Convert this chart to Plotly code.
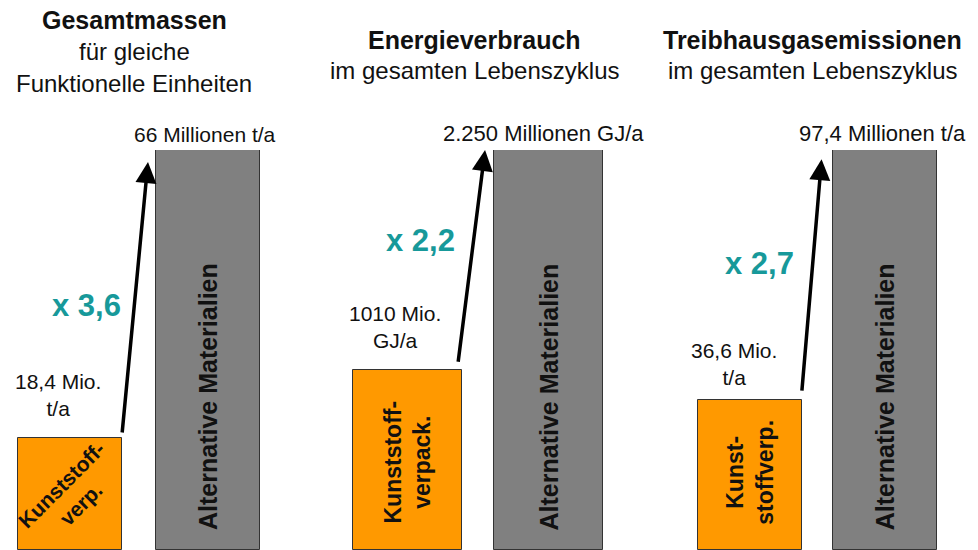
import plotly.graph_objects as go

# ---- data ----
panel_titles = ["Gesamtmassen", "Energieverbrauch", "Treibhausgasemissionen"]
panel_subtitles = [["für gleiche", "Funktionelle Einheiten"],
                   ["im gesamten Lebenszyklus"],
                   ["im gesamten Lebenszyklus"]]
plastic_values = [18.4, 1010, 36.6]
alternative_values = [66, 2250, 97.4]
plastic_labels = ["18,4 Mio.<br>t/a", "1010 Mio.<br>GJ/a", "36,6 Mio.<br>t/a"]
alternative_labels = ["66 Millionen t/a", "2.250 Millionen GJ/a", "97,4 Millionen t/a"]
plastic_bar_text = ["Kunststoff-<br>verp.", "Kunststoff-<br>verpack.", "Kunst-<br>stoffverp."]
alternative_bar_text = "Alternative Materialien"

# ---- style ----
W, H = 978, 550
TOP, PH = 150, 400
FONT = "Liberation Sans, Arial, sans-serif"
ORANGE = "#FF9900"
GRAY = "#808080"
TEAL = "#17999a"
domains_px = [(1, 277), (337, 619), (682, 953)]
bar_widths = [0.754, 0.773, 0.771]
title_x_px = [134, 474, 812]
alt_label_x = [0.975, 0.968, 0.98]
alt_label_size = [21, 22, 22]
ratio_pos = [(0.116, 0.6125), (0.089, 0.775), (0.074, 0.7175)]
plastic_label_x = [-0.087, -0.089, -0.118]
plastic_label_shift = [16, 16, 9]
plastic_text_pos = [(0.01, 0.14, -45, 21), (0.0, 0.22, -90, 23), (0.0, 0.195, -90, 23)]
arrow_head = [(0.565, 0.97), (0.55, 1.0), (0.53, 0.977)]
arrow_tail = [(0.377, 1.04), (0.358, 1.04), (0.384, 1.05)]

def py(p):
    return (H - p) / PH

fig = go.Figure()
ann = []
for i in range(3):
    xa = "x" if i == 0 else f"x{i+1}"
    ya = "y" if i == 0 else f"y{i+1}"
    fig.add_trace(go.Bar(
        x=[0, 1], y=[plastic_values[i], alternative_values[i]],
        width=[bar_widths[i]] * 2,
        marker=dict(color=[ORANGE, GRAY], line=dict(color="#333333", width=1)),
        xaxis=xa, yaxis=ya, showlegend=False, hoverinfo="skip"))
    d0, d1 = domains_px[i]
    axkey = "xaxis" if i == 0 else f"xaxis{i+1}"
    aykey = "yaxis" if i == 0 else f"yaxis{i+1}"
    fig.layout[axkey] = dict(domain=[d0 / W, d1 / W], range=[-0.5, 1.5], visible=False,
                             anchor=ya, fixedrange=True)
    fig.layout[aykey] = dict(domain=[0, 1], range=[0, alternative_values[i]], visible=False,
                             anchor=xa, fixedrange=True)

    # titles
    xp = title_x_px[i] / W
    lines = [(panel_titles[i], True)] + [(s, False) for s in panel_subtitles[i]]
    ys = [20, 52, 84] if i == 0 else [40, 70]
    for (txt, bold), yy in zip(lines, ys):
        ann.append(dict(xref="paper", yref="paper", x=xp, y=py(yy), xanchor="center",
                        yanchor="middle", showarrow=False,
                        text=f"<b>{txt}</b>" if bold else txt,
                        font=dict(family=FONT, size=25 if bold else 24, color="#111111")))

    # label above alternative bar
    ann.append(dict(xref=xa, yref=ya, x=alt_label_x[i], y=alternative_values[i],
                    xanchor="center", yanchor="bottom", yshift=2, showarrow=False,
                    text=alternative_labels[i],
                    font=dict(family=FONT, size=alt_label_size[i], color="#111111")))

    # label above plastic bar
    ann.append(dict(xref=xa, yref=ya, x=plastic_label_x[i], y=plastic_values[i],
                    xanchor="center", yanchor="bottom", yshift=plastic_label_shift[i],
                    showarrow=False, text=plastic_labels[i],
                    font=dict(family=FONT, size=21, color="#111111")))

    # ratio
    ratio = alternative_values[i] / plastic_values[i]
    rtxt = f"x {ratio:.1f}".replace(".", ",")
    rx, ry = ratio_pos[i]
    ann.append(dict(xref=xa, yref="paper", x=rx, y=ry, xanchor="center", yanchor="middle",
                    showarrow=False, text=f"<b>{rtxt}</b>",
                    font=dict(family=FONT, size=31, color=TEAL)))

    # arrow
    hx, hy = arrow_head[i]
    tx, ty = arrow_tail[i]
    ann.append(dict(xref=xa, yref=ya, axref=xa, ayref=ya,
                    x=hx, y=hy * alternative_values[i],
                    ax=tx, ay=ty * plastic_values[i],
                    showarrow=True, arrowhead=2, arrowsize=1.2, arrowwidth=3.5,
                    arrowcolor="#000000", standoff=0, startstandoff=0, text=""))

    # text in bars
    ptx, pty, pang, psz = plastic_text_pos[i]
    ann.append(dict(xref=xa, yref="paper", x=ptx, y=pty, xanchor="center", yanchor="middle",
                    showarrow=False, textangle=pang, text=f"<b>{plastic_bar_text[i]}</b>",
                    font=dict(family=FONT, size=psz, color="#111111")))
    ann.append(dict(xref=xa, yref="paper", x=1, y=py(397), xanchor="center", yanchor="middle",
                    showarrow=False, textangle=-90, text=f"<b>{alternative_bar_text}</b>",
                    font=dict(family=FONT, size=25, color="#111111")))

fig.update_layout(width=W, height=H, autosize=False,
                  margin=dict(l=0, r=0, t=TOP, b=0),
                  paper_bgcolor="white", plot_bgcolor="white",
                  annotations=ann, bargap=0)
fig.write_html("out.html", config={"displayModeBar": False},
               post_script="document.body.style.margin='0px';document.body.style.overflow='hidden';")
